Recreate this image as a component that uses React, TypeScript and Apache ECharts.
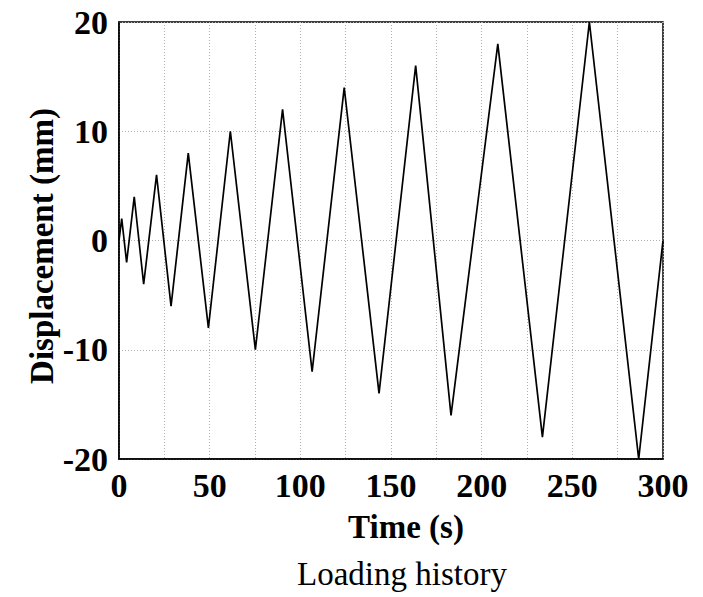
import React, { useEffect, useRef } from "react";
import * as echarts from "echarts";

const timeSeconds = [0, 1.5, 4.2, 8.4, 13.6, 20.7, 28.7, 38.2, 49.3, 61.4, 75.2, 90.2, 106.5, 124.2, 143.4, 163.6, 183.1, 208.9, 233.5, 259.4, 286.6, 300];
const displacementMm = [0, 2, -2, 4, -4, 6, -6, 8, -8, 10, -10, 12, -12, 14, -14, 16, -16, 18, -18, 20, -20, 0];
const xLabel = "Time (s)";
const yLabel = "Displacement (mm)";
const caption = "Loading history";

const FONT = "'Liberation Serif', 'Times New Roman', serif";

export default function App() {
  const ref = useRef<HTMLDivElement>(null);
  useEffect(() => {
    if (!ref.current) return;
    const chart = echarts.init(ref.current, undefined, { renderer: "svg" });
    const data = timeSeconds.map((t, i) => [t, displacementMm[i]]);
    chart.setOption({
      animation: false,
      backgroundColor: "#fff",
      grid: {
        left: 119,
        top: 22,
        right: 40,
        bottom: 138,
        show: true,
        borderColor: "#000",
        borderWidth: 1.5,
      },
      xAxis: {
        type: "value",
        min: 0,
        max: 300,
        interval: 25,
        axisLine: { show: true, onZero: false, lineStyle: { color: "#000", width: 1.5 } },
        axisTick: { show: false },
        axisLabel: {
          margin: 9,
          fontFamily: FONT,
          fontWeight: "bold",
          fontSize: 34,
          color: "#000",
          formatter: (v: number) => (v % 50 === 0 ? String(v) : ""),
        },
        splitLine: { show: true, lineStyle: { color: "#b0b0b0", type: [1, 2], width: 1 } },
      },
      yAxis: {
        type: "value",
        min: -20,
        max: 20,
        interval: 10,
        axisLine: { show: true, onZero: false, lineStyle: { color: "#000", width: 1.5 } },
        axisTick: { show: false },
        axisLabel: {
          margin: 11,
          fontFamily: FONT,
          fontWeight: "bold",
          fontSize: 34,
          color: "#000",
        },
        splitLine: { show: true, lineStyle: { color: "#b0b0b0", type: [1, 2], width: 1 } },
      },
      graphic: [
        {
          type: "text",
          x: 42,
          y: 246,
          rotation: Math.PI / 2,
          style: {
            text: yLabel,
            fontFamily: FONT,
            fontWeight: "bold",
            fontSize: 33,
            fill: "#000",
            align: "center",
            verticalAlign: "middle",
          },
        },
        {
          type: "text",
          x: 406,
          y: 527,
          style: {
            text: xLabel,
            fontFamily: FONT,
            fontWeight: "bold",
            fontSize: 33,
            fill: "#000",
            align: "center",
            verticalAlign: "middle",
          },
        },
        {
          type: "text",
          x: 402,
          y: 574,
          style: {
            text: caption,
            fontFamily: FONT,
            fontWeight: "normal",
            fontSize: 33,
            fill: "#000",
            align: "center",
            verticalAlign: "middle",
          },
        },
      ],
      series: [
        {
          type: "line",
          data,
          showSymbol: false,
          symbol: "none",
          clip: false,
          lineStyle: { color: "#000", width: 1.7 },
        },
      ],
    });
    return () => chart.dispose();
  }, []);
  return (
    <div
      ref={ref}
      style={{ position: "fixed", left: 0, top: 0, width: 703, height: 597, background: "#fff" }}
    />
  );
}
